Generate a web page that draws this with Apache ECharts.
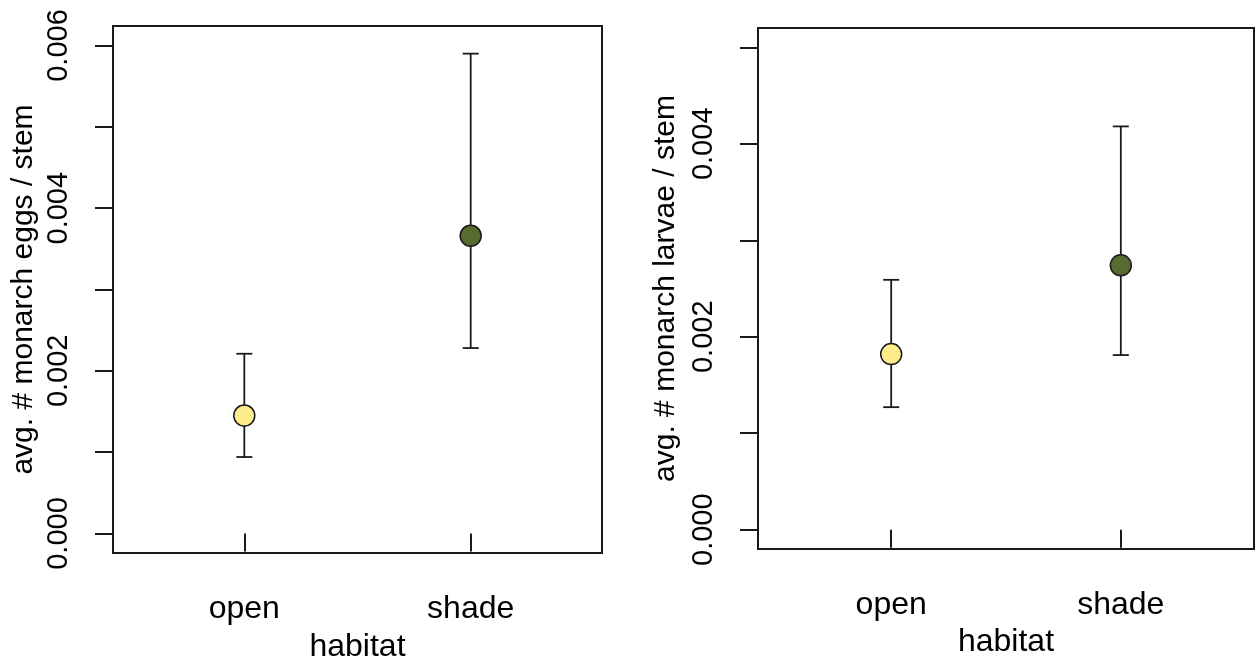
<!DOCTYPE html>
<html>
<head>
<meta charset="utf-8">
<script src="https://cdn.jsdelivr.net/npm/echarts@6/dist/echarts.min.js"></script>
<style>
html,body{margin:0;padding:0;background:#fff;}
#chart{width:1257px;height:660px;}
</style>
</head>
<body>
<div id="chart"></div>
<script>
const categories = ['open', 'shade'];
const pointColors = ['#FFEC8B', '#556B2F'];

const eggsMean  = [0.00145, 0.00366];
const eggsLower = [0.00094, 0.00228];
const eggsUpper = [0.00221, 0.00590];

const larvaeMean  = [0.00182, 0.00274];
const larvaeLower = [0.00127, 0.00181];
const larvaeUpper = [0.00259, 0.00418];

const eggsTicks  = [0, 0.001, 0.002, 0.003, 0.004, 0.005, 0.006];
const eggsLabels = [0, 0.002, 0.004, 0.006];
const larvaeTicks  = [0, 0.001, 0.002, 0.003, 0.004, 0.005];
const larvaeLabels = [0, 0.002, 0.004];

const xName = 'habitat';
const eggsTitle = 'avg. # monarch eggs / stem';
const larvaeTitle = 'avg. # monarch larvae / stem';

const FONT = '"Liberation Sans", Arial, sans-serif';
const INK = '#1a1a1a';

function xAxisCfg(gridIndex, gap) {
  return {
    gridIndex: gridIndex, type: 'value', min: 0.42, max: 2.58,
    name: xName, nameLocation: 'middle', nameGap: gap,
    nameTextStyle: {fontFamily: FONT, fontSize: 32, color: '#000'},
    axisLine: {show: false},
    splitLine: {show: false},
    axisTick: {show: true, inside: false, length: 18, customValues: [1, 2],
               lineStyle: {color: INK, width: 2}},
    axisLabel: {show: true, margin: 40, customValues: [1, 2],
                fontFamily: FONT, fontSize: 32, color: '#000',
                formatter: function (v) { return categories[Math.round(v) - 1] || ''; }}
  };
}

function yAxisCfg(gridIndex, lo, hi, ticks, labels, title, gap) {
  return {
    gridIndex: gridIndex, type: 'value', min: lo, max: hi,
    name: title, nameLocation: 'middle', nameGap: gap, nameRotate: 90,
    nameTextStyle: {fontFamily: FONT, fontSize: 30, color: '#000'},
    axisLine: {show: false},
    splitLine: {show: false},
    axisTick: {show: true, inside: false, length: 18, customValues: ticks,
               lineStyle: {color: INK, width: 2}},
    axisLabel: {show: true, rotate: 90, margin: 40, customValues: labels,
                fontFamily: FONT, fontSize: 29, color: '#000',
                formatter: function (v) { return Number(v).toFixed(3); }}
  };
}

function errorSeries(idx, lower, upper) {
  return {
    type: 'custom', xAxisIndex: idx, yAxisIndex: idx, z: 2,
    encode: {x: 0, y: [1, 2]},
    data: categories.map(function (c, i) { return [i + 1, lower[i], upper[i]]; }),
    renderItem: function (params, api) {
      const x = api.value(0);
      const pLo = api.coord([x, api.value(1)]);
      const pHi = api.coord([x, api.value(2)]);
      const w = 8;
      const st = {stroke: INK, lineWidth: 1.8};
      return {type: 'group', children: [
        {type: 'line', shape: {x1: pLo[0], y1: pLo[1], x2: pHi[0], y2: pHi[1]}, style: st},
        {type: 'line', shape: {x1: pLo[0] - w, y1: pLo[1], x2: pLo[0] + w, y2: pLo[1]}, style: st},
        {type: 'line', shape: {x1: pHi[0] - w, y1: pHi[1], x2: pHi[0] + w, y2: pHi[1]}, style: st}
      ]};
    }
  };
}

function pointSeries(idx, mean) {
  return {
    type: 'scatter', xAxisIndex: idx, yAxisIndex: idx, z: 5,
    symbol: 'circle', symbolSize: 21,
    itemStyle: {opacity: 1},
    data: categories.map(function (c, i) {
      return {value: [i + 1, mean[i]],
              itemStyle: {color: pointColors[i], borderColor: INK, borderWidth: 1.5, opacity: 1}};
    })
  };
}

const chart = echarts.init(document.getElementById('chart'), null, {renderer: 'canvas'});
chart.setOption({
  animation: false,
  backgroundColor: '#fff',
  grid: [
    {left: 113, top: 26, width: 489, height: 527, show: true, containLabel: false,
     outerBoundsMode: 'none',
     borderColor: INK, borderWidth: 2, backgroundColor: 'transparent'},
    {left: 758, top: 28, width: 496, height: 521, show: true, containLabel: false,
     outerBoundsMode: 'none',
     borderColor: INK, borderWidth: 2, backgroundColor: 'transparent'}
  ],
  xAxis: [xAxisCfg(0, 78), xAxisCfg(1, 76)],
  yAxis: [
    yAxisCfg(0, -0.00024, 0.00624, eggsTicks, eggsLabels, eggsTitle, 74),
    yAxisCfg(1, -0.0002, 0.0052, larvaeTicks, larvaeLabels, larvaeTitle, 77)
  ],
  series: [
    errorSeries(0, eggsLower, eggsUpper),
    pointSeries(0, eggsMean),
    errorSeries(1, larvaeLower, larvaeUpper),
    pointSeries(1, larvaeMean)
  ]
});
</script>
</body>
</html>
